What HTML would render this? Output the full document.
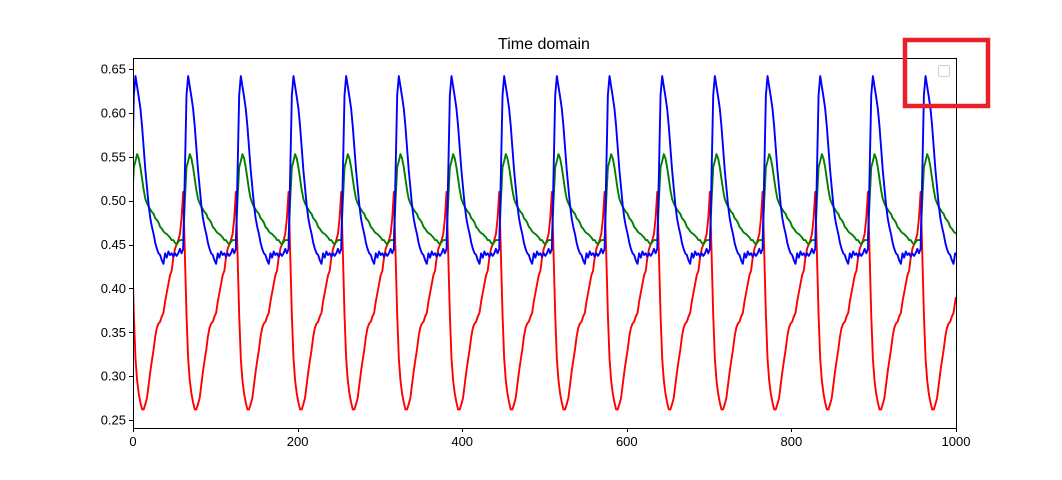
<!DOCTYPE html>
<html><head><meta charset="utf-8"><style>
body{margin:0;background:#fff;}
svg{display:block;font-family:"Liberation Sans","DejaVu Sans",sans-serif;}
</style></head><body>
<svg id="chart" width="1062" height="480"></svg>
<script>
// one cycle (period 64 samples, step 2) starting at the red peak
const period = 64;
const cycleStart = -3;
const cycleStep = 2;
const redCycle = [0.51,0.44,0.37,0.32,0.295,0.28,0.27,0.262,0.262,0.268,0.275,0.29,0.305,0.318,0.33,0.345,0.355,0.36,0.362,0.368,0.372,0.385,0.395,0.405,0.415,0.42,0.435,0.445,0.45,0.455,0.462,0.48];
const blueCycle = [0.445,0.53,0.62,0.642,0.63,0.618,0.605,0.585,0.56,0.535,0.515,0.495,0.48,0.47,0.462,0.452,0.445,0.44,0.438,0.432,0.428,0.44,0.435,0.442,0.438,0.44,0.436,0.44,0.437,0.44,0.445,0.44];
const greenCycle = [0.455,0.50,0.538,0.545,0.553,0.548,0.538,0.525,0.512,0.502,0.497,0.493,0.49,0.487,0.485,0.48,0.478,0.475,0.47,0.468,0.465,0.463,0.462,0.46,0.458,0.455,0.455,0.452,0.45,0.453,0.455,0.455];
const xTicks = [0,200,400,600,800,1000];
const yTicks = [0.25,0.30,0.35,0.40,0.45,0.50,0.55,0.60,0.65];
const xMax = 1000;

const NS = "http://www.w3.org/2000/svg";
const svg = document.getElementById('chart');
const L=133,R=956,T=58,B=428;
const xs = v => L + (v/1000)*(R-L);
const ys = v => 69 + (0.65-v)*877.5;
function mk(tag, attrs, parent){const e=document.createElementNS(NS,tag);for(const k in attrs)e.setAttribute(k,attrs[k]);(parent||svg).appendChild(e);return e;}

const title = mk('text',{x:544,y:49,'text-anchor':'middle','font-size':16,fill:'#000'});


title.textContent='Time domain';

function valueAt(cycle,t){
  let s=((t-cycleStart)%period+period)%period;
  const f=s/cycleStep, i=Math.floor(f), fr=f-i;
  const a=cycle[i%cycle.length], b=cycle[(i+1)%cycle.length];
  return a+(b-a)*fr;
}
const defs=mk('defs',{});
const cp=mk('clipPath',{id:'clip'},defs);
mk('rect',{x:L,y:T,width:R-L,height:B-T},cp);
const g=mk('g',{'clip-path':'url(#clip)'});


[['red',redCycle,'red-series'],['green',greenCycle,'green-series'],['blue',blueCycle,'blue-series']].forEach(([c,cyc,name])=>{
  let d='';
  for(let t=0;t<=xMax;t+=1){d+=(t?'L':'M')+xs(t).toFixed(2)+','+ys(valueAt(cyc,t)).toFixed(2);}
  const p=mk('path',{d:d,fill:'none',stroke:c==='green'?'#008000':c==='blue'?'#0000ff':'#ff0000','stroke-width':1.9,'stroke-linejoin':'round'},g);
  
  
});

const frame=mk('rect',{x:L+0.5,y:T+0.5,width:R-L,height:B-T,fill:'none',stroke:'#000','stroke-width':1,'shape-rendering':'crispEdges'});



xTicks.forEach(v=>{
  const x=Math.round(xs(v))+0.5;
  const tk=mk('line',{x1:x,y1:B,x2:x,y2:B+4,stroke:'#000'});
  
  
  const tx=mk('text',{x:xs(v),y:B+18,'text-anchor':'middle','font-size':13});
  
  
  tx.textContent=v;
});
yTicks.forEach(v=>{
  const y=Math.round(ys(v))+0.5;
  const tk=mk('line',{x1:L-4,y1:y,x2:L,y2:y,stroke:'#000'});
  
  
  const tx=mk('text',{x:L-7,y:ys(v)+4.5,'text-anchor':'end','font-size':13});
  
  
  tx.textContent=v.toFixed(2);
});

const leg=mk('rect',{x:938.5,y:65.5,width:11,height:11,rx:2,fill:'#fff',stroke:'#d0d0d0'});



const hl=mk('rect',{x:905,y:40,width:83,height:66,fill:'none',stroke:'#e8202a','stroke-width':4.5});


</script>
</body></html>
